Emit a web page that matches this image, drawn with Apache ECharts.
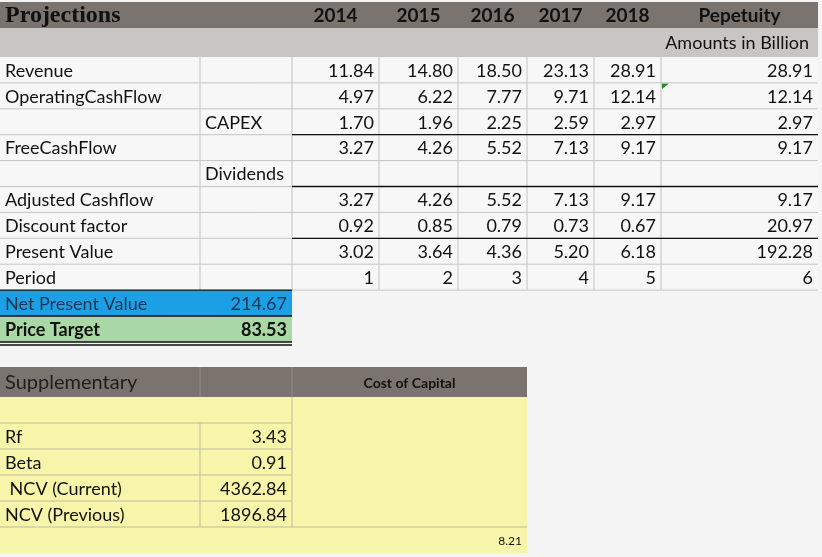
<!DOCTYPE html>
<html>
<head>
<meta charset="utf-8">
<script src="https://cdn.jsdelivr.net/npm/echarts@6/dist/echarts.min.js"></script>
<style>
  html, body { margin: 0; padding: 0; background: #f4f4f4; }
  #main { width: 822px; height: 557px; }
</style>
</head>
<body>
<div id="main"></div>
<script>
// ---- data ----
const years = ['2014', '2015', '2016', '2017', '2018', 'Pepetuity'];
const rowLabels = ['Revenue', 'OperatingCashFlow', '', 'FreeCashFlow', '', 'Adjusted Cashflow', 'Discount factor', 'Present Value', 'Period'];
const subLabels = ['', '', 'CAPEX', '', 'Dividends', '', '', '', ''];
const revenue = [11.84, 14.80, 18.50, 23.13, 28.91, 28.91];
const operatingCashFlow = [4.97, 6.22, 7.77, 9.71, 12.14, 12.14];
const capex = [1.70, 1.96, 2.25, 2.59, 2.97, 2.97];
const freeCashFlow = [3.27, 4.26, 5.52, 7.13, 9.17, 9.17];
const dividends = [null, null, null, null, null, null];
const adjustedCashflow = [3.27, 4.26, 5.52, 7.13, 9.17, 9.17];
const discountFactor = [0.92, 0.85, 0.79, 0.73, 0.67, 20.97];
const presentValue = [3.02, 3.64, 4.36, 5.20, 6.18, 192.28];
const period = [1, 2, 3, 4, 5, 6];
const netPresentValue = 214.67;
const priceTarget = 83.53;
const suppLabels = ['Rf', 'Beta', ' NCV (Current)', 'NCV (Previous)'];
const suppValues = [3.43, 0.91, 4362.84, 1896.84];
const costOfCapital = 8.21;

// ---- layout ----
const W = 822, H = 557;
const colX = [0, 200, 292, 379, 458, 527, 594, 661, 818];
const rowH = 25.9;
const bodyTop = 57;
const rowY = i => bodyTop + i * rowH;
const suppTop = 367, suppHead = 397;
const suppY = i => 423 + i * 26;

const C = {
  dark: '#7b736e', light: '#c9c5c2', grid: '#c4c4c4', text: '#111',
  blue: '#1ba0e6', green: '#a9d8a6', yellow: '#f7f5aa', yline: '#bdbb9c'
};
const body = '18px Lato';
const bold = 'bold 19px Lato';

const cells = [];
const lines = [];
function cell(x0, y0, x1, y1, o) { cells.push(Object.assign({ r: [x0, y0, x1, y1] }, o)); }
function line(x0, y0, x1, y1, color, width) { lines.push({ r: [x0, y0, x1, y1], color, width: width || 1 }); }
const fmt = v => v == null ? '' : (Number.isInteger(v) ? String(v) : v.toFixed(2));

// header rows
cell(0, 2, 818, 28, { fill: C.dark });
cell(0, 28, 818, 57, { fill: C.light });
cell(0, 2, 292, 28, { text: 'Projections', align: 'left', font: 'bold 24px "Liberation Serif"' });
years.forEach((y, j) => cell(colX[j + 2], 2, colX[j + 3], 28, { text: y, align: 'center', font: bold }));
cell(colX[7], 28, colX[8], 57, { text: 'Amounts in Billion', align: 'right', pad: 9, font: body });

// body rows
const rows = [revenue, operatingCashFlow, capex, freeCashFlow, dividends, adjustedCashflow, discountFactor, presentValue, period];
rows.forEach((vals, i) => {
  const y0 = rowY(i), y1 = rowY(i + 1);
  cell(0, y0, 818, y1, { fill: '#f7f7f7' });
  cell(colX[0], y0, colX[1], y1, { text: rowLabels[i], align: 'left', font: body });
  cell(colX[1], y0, colX[2], y1, { text: subLabels[i], align: 'left', font: body });
  vals.forEach((v, j) => cell(colX[j + 2], y0, colX[j + 3], y1, { text: fmt(v), align: 'right', font: body }));
});
// comment marker
cell(662, rowY(1) + 0.5, 669, rowY(1) + 6, { tri: '#1f8a2a' });

// grid lines
for (let i = 1; i <= 9; i++) line(i === 9 ? 292 : 0, rowY(i), 818, rowY(i), C.grid);
colX.slice(1, 8).forEach(x => line(x, bodyTop, x, rowY(9), C.grid));
[3, 5, 7].forEach(i => line(292, rowY(i), 818, rowY(i), '#111', 1.3));

// NPV / price target
cell(0, rowY(9), 292, rowY(10), { fill: C.blue });
cell(0, rowY(9), 292, rowY(10), { text: 'Net Present Value', align: 'left', font: body, color: '#1c3555' });
cell(0, rowY(9), 292, rowY(10), { text: fmt(netPresentValue), align: 'right', font: body, color: '#1c3555' });
cell(0, rowY(10), 292, rowY(11), { fill: C.green });
cell(0, rowY(10), 292, rowY(11), { text: 'Price Target', align: 'left', font: 'bold 18px Lato' });
cell(0, rowY(10), 292, rowY(11), { text: fmt(priceTarget), align: 'right', font: 'bold 18px Lato' });
line(0, rowY(9), 292, rowY(9), '#111', 1.3);
line(0, rowY(10), 292, rowY(10), '#111', 1.3);
line(0, rowY(11), 292, rowY(11), '#111', 1.5);
line(0, rowY(11) + 3, 292, rowY(11) + 3, '#111', 1.5);

// supplementary block
cell(0, suppTop, 527, suppHead, { fill: C.dark });
cell(0, suppHead, 527, suppY(5), { fill: C.yellow });
cell(0, suppTop, 200, suppHead, { text: 'Supplementary', align: 'left', font: '20px Lato', color: '#1e1e1e' });
cell(292, suppTop, 527, suppHead, { text: 'Cost of Capital', align: 'center', font: 'bold 14px Lato' });
line(200, suppTop, 200, suppHead, '#958d88');
line(292, suppTop, 292, suppHead, '#958d88');
suppLabels.forEach((s, i) => {
  cell(0, suppY(i), 200, suppY(i + 1), { text: s, align: 'left', font: body });
  cell(200, suppY(i), 292, suppY(i + 1), { text: fmt(suppValues[i]), align: 'right', font: body });
});
for (let i = 0; i < 4; i++) line(0, suppY(i), 292, suppY(i), C.yline);
line(0, suppY(4), 527, suppY(4), C.yline);
line(200, suppY(0), 200, suppY(4), C.yline);
line(292, suppHead, 292, suppY(4), C.yline);
cell(0, suppY(4), 527, suppY(5), { text: fmt(costOfCapital), align: 'right', font: '12px Lato' });

// ---- chart ----
const chart = echarts.init(document.getElementById('main'));
chart.setOption({
  backgroundColor: '#f4f4f4',
  animation: false,
  grid: { left: 0, right: 0, top: 0, bottom: 0 },
  xAxis: { type: 'value', min: 0, max: W, show: false },
  yAxis: { type: 'value', min: 0, max: H, inverse: true, show: false },
  series: [
    {
      type: 'custom',
      silent: true,
      data: cells.map(c => c.r),
      encode: { x: [0, 2], y: [1, 3] },
      renderItem: (params, api) => {
        const c = cells[params.dataIndex];
        const p0 = api.coord([api.value(0), api.value(1)]);
        const p1 = api.coord([api.value(2), api.value(3)]);
        const children = [];
        if (c.fill) {
          children.push({ type: 'rect', shape: { x: p0[0], y: p0[1], width: p1[0] - p0[0], height: p1[1] - p0[1] }, style: { fill: c.fill } });
        }
        if (c.tri) {
          children.push({ type: 'polygon', shape: { points: [[p0[0], p0[1]], [p1[0], p0[1]], [p0[0], p1[1]]] }, style: { fill: c.tri } });
        }
        if (c.text) {
          const pad = c.pad || 5;
          const x = c.align === 'left' ? p0[0] + pad : c.align === 'right' ? p1[0] - pad : (p0[0] + p1[0]) / 2;
          children.push({
            type: 'text',
            style: { x, y: (p0[1] + p1[1]) / 2 + 1, text: c.text, font: c.font, fill: c.color || C.text, align: c.align, verticalAlign: 'middle' }
          });
        }
        return { type: 'group', children };
      }
    },
    {
      type: 'custom',
      silent: true,
      data: lines.map(l => l.r),
      encode: { x: [0, 2], y: [1, 3] },
      renderItem: (params, api) => {
        const l = lines[params.dataIndex];
        const p0 = api.coord([api.value(0), api.value(1)]);
        const p1 = api.coord([api.value(2), api.value(3)]);
        return { type: 'line', shape: { x1: p0[0], y1: p0[1], x2: p1[0], y2: p1[1] }, style: { stroke: l.color, lineWidth: l.width } };
      }
    }
  ]
});
</script>
</body>
</html>
